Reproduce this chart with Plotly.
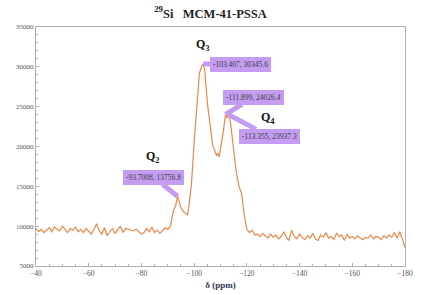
import plotly.graph_objects as go

# chemical shift (ppm)
shift_ppm = [
    -40, -41, -42, -43, -44, -45, -46, -47, -48, -49,
    -50, -51, -52, -53, -54, -55, -56, -57, -58, -59,
    -60, -61, -62, -63, -64, -65, -66, -67, -68, -69,
    -70, -71, -72, -73, -74, -75, -76, -77, -78, -79,
    -80, -81, -82, -83, -84, -85, -86, -87, -88, -89,
    -90, -91, -92, -93, -93.7008, -94.5, -95, -96, -97, -97.5,
    -98, -99, -100, -101, -102, -103, -103.407, -104, -105, -106,
    -107, -108, -108.5, -109, -109.5, -110, -111, -111.899, -112.5, -113.355,
    -114, -115, -116, -117, -118, -119, -120, -121, -122, -123,
    -124, -125, -126, -127, -128, -129, -130, -131, -132, -133,
    -134, -135, -136, -137, -138, -139, -140, -141, -142, -143,
    -144, -145, -146, -147, -148, -149, -150, -151, -152, -153,
    -154, -155, -156, -157, -158, -159, -160, -161, -162, -163,
    -164, -165, -166, -167, -168, -169, -170, -171, -172, -173,
    -174, -175, -176, -177, -178, -179, -180,
]

# intensity
intensity = [
    9700, 9300, 9600, 9200, 9500, 9800, 9300, 9900, 9600, 9400,
    10000, 9600, 9200, 9700, 9500, 9900, 9300, 9600, 9200, 9700,
    9400, 9000, 9600, 10300, 9400, 9000, 9800, 8800, 9300, 9700,
    9100, 9500, 10000, 9200, 9700, 9600, 9500, 9400, 9600, 9300,
    9000, 9200, 9700, 9300, 9900, 9200, 9500, 9100, 9400, 9800,
    9600, 10000, 11800, 12600, 13757, 12900, 12300, 11800, 11500, 11400,
    12400, 15400, 20500, 25500, 29200, 30200, 30346, 29700, 25500, 22800,
    20200, 19300, 18900, 19100, 18700, 19800, 21700, 24026, 23600, 23937,
    22500, 19500, 16800, 15000, 14100, 11400, 9600, 9200, 9500, 8900,
    9000, 8700, 9100, 8800, 8500, 9000, 8600, 8900, 8400, 8700,
    9300, 8600, 8200, 9500, 8700, 8400, 9000, 8600, 8300, 8800,
    8500, 9100, 8400, 8200, 8900, 8600, 9200, 8500, 8700, 8300,
    9100, 8700, 8900, 8200, 9000, 8500, 8700, 8400, 8800, 8500,
    8300, 8600, 8500, 8900, 8400, 8700, 8600, 8300, 8800, 8500,
    8900, 8600, 9200, 8500, 9300, 8400, 7300,
]

# callout labels: (x, y, text, dx, dy)
callouts = [
    (-103.407, 30345.6, "-103.407, 30345.6", 37, 0),
    (-111.899, 24026.4, "-111.899, 24026.4", 28, -17),
    (-113.355, 23937.3, "-113.355, 23937.3", 40, 21),
    (-93.7008, 13756.8, "-93.7008, 13756.8", -24, -19),
]

# peak labels
peak_labels = [
    (-103.4, 32700, "Q<sub>3</sub>"),
    (-128.0, 23600, "Q<sub>4</sub>"),
    (-84.4, 18700, "Q<sub>2</sub>"),
]

line_color = "#e8894a"
callout_color = "#c49cf2"
serif = "Liberation Serif, Times New Roman, serif"

fig = go.Figure()
fig.add_trace(go.Scatter(
    x=shift_ppm, y=intensity, mode="lines",
    line=dict(color=line_color, width=1.2),
    hoverinfo="skip", showlegend=False,
))

for x, y, txt, dx, dy in callouts:
    fig.add_annotation(
        x=x, y=y, text=txt, showarrow=True, ax=dx, ay=dy,
        arrowhead=0, arrowwidth=5, arrowcolor=callout_color, standoff=0,
        bgcolor=callout_color, bordercolor=callout_color, borderpad=2,
        font=dict(family=serif, size=7.5, color="#404040"),
    )

for x, y, txt in peak_labels:
    fig.add_annotation(
        x=x, y=y, text="<b>" + txt + "</b>", showarrow=False,
        font=dict(family=serif, size=12, color="#111111"),
    )

fig.update_layout(
    width=421, height=295,
    margin=dict(l=36, r=16, t=27, b=29, autoexpand=False),
    paper_bgcolor="white", plot_bgcolor="white",
    title=dict(
        text="<b><sup>29</sup>Si   MCM-41-PSSA</b>",
        x=0.5, xanchor="center", y=0.955, yanchor="middle",
        font=dict(family=serif, size=12.5, color="#222222"),
        automargin=False,
    ),
    xaxis=dict(
        range=[-40, -180], tick0=-40, dtick=20, automargin=False,
        showgrid=False, zeroline=False,
        showline=True, linecolor="#b0b0b0", linewidth=1, mirror=True,
        ticks="inside", ticklen=3, tickcolor="#b0b0b0",
        minor=dict(dtick=5, ticks="inside", ticklen=2, tickcolor="#b0b0b0"),
        tickfont=dict(family=serif, size=7.5, color="#555555"),
        title=dict(text="<b>δ (ppm)</b>", standoff=4,
                   font=dict(family=serif, size=9, color="#333355")),
    ),
    yaxis=dict(
        range=[5000, 35000], tick0=5000, dtick=5000, automargin=False,
        showgrid=False, zeroline=False,
        showline=True, linecolor="#b0b0b0", linewidth=1, mirror=True,
        ticks="inside", ticklen=3, tickcolor="#b0b0b0",
        minor=dict(dtick=1000, ticks="inside", ticklen=2, tickcolor="#b0b0b0"),
        tickfont=dict(family=serif, size=7, color="#555555"),
        tickformat="d",
    ),
)

fig.write_html(
    "out.html",
    config={"displayModeBar": False},
    post_script="document.body.style.margin='0';document.body.style.padding='0';",
)
